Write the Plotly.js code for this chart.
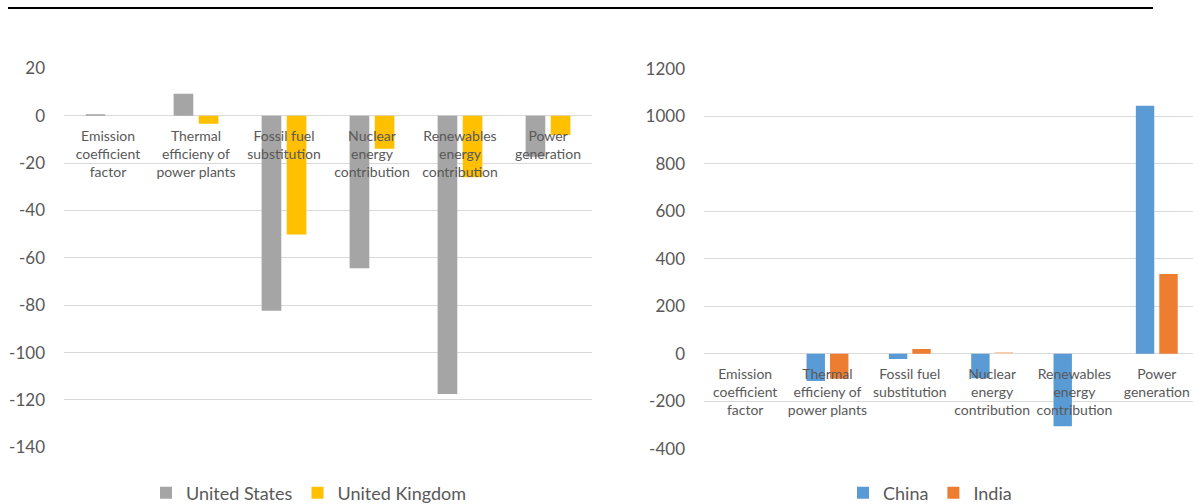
<!DOCTYPE html>
<html>
<head>
<meta charset="utf-8">
<script src="https://cdn.plot.ly/plotly-3.0.1.min.js"></script>
<style>
html,body{margin:0;padding:0;background:#fff;overflow:hidden;}
#chart{width:1193px;height:504px;}
</style>
</head>
<body>
<div id="chart"></div>
<script>
// ---- data ----
const categories = [
  "Emission<br>coefficient<br>factor",
  "Thermal<br>efficieny of<br>power plants",
  "Fossil fuel<br>substitution",
  "Nuclear<br>energy<br>contribution",
  "Renewables<br>energy<br>contribution",
  "Power<br>generation"
];
const unitedStates  = [0.6, 9.3, -82.4, -64.4, -117.5, -17.3];
const unitedKingdom = [0, -3.4, -50.2, -14.0, -26.0, -8.2];
const china = [0, -115, -22, -104, -306, 1045];
const india = [0, -106, 20, 7, 0, 336];
const leftTicks = [20, 0, -20, -40, -60, -80, -100, -120, -140];
const rightTicks = [1200, 1000, 800, 600, 400, 200, 0, -200, -400];

// ---- layout helpers ----
const W = 1193, H = 504;
const px = v => v / W;
const py = v => 1 - v / H;
const txt = '#595959';
const grid = '#d9d9d9';
const FONT = 'Lato, "Liberation Sans", sans-serif';

const leftRange = [-140, 20];
const rightRange = [-400, 1200];
const leftDom = [py(447.3), py(68.3)];
const rightDom = [py(448.6), py(69)];
function zeroPos(dom, r){ return dom[0] + (0 - r[0])/(r[1]-r[0])*(dom[1]-dom[0]); }

const indiaColors = india.map((v,i)=> i===3 ? '#F8CBAD' : '#ED7D31');

const traces = [
  {type:'bar', name:'United States', x:categories, y:unitedStates, xaxis:'x', yaxis:'y',
   marker:{color:'#A5A5A5'}, legend:'legend'},
  {type:'bar', name:'United Kingdom', x:categories, y:unitedKingdom, xaxis:'x', yaxis:'y',
   marker:{color:'#FFC000'}, legend:'legend'},
  {type:'bar', name:'China', x:categories, y:china, xaxis:'x2', yaxis:'y2',
   marker:{color:'#5B9BD5'}, legend:'legend2'},
  {type:'bar', name:'India', x:categories, y:india, xaxis:'x2', yaxis:'y2',
   marker:{color:indiaColors}, legend:'legend2'}
];

const xCommon = {
  type:'category', anchor:'free', showgrid:false, showline:false, zeroline:false,
  ticks:'', tickfont:{family:FONT, size:14, color:txt}, tickangle:0, fixedrange:true,
  ticklabelstandoff:10, automargin:false
};
const yCommon = {
  showgrid:true, gridcolor:grid, gridwidth:1, zeroline:true, zerolinecolor:grid, zerolinewidth:1,
  showline:false, ticks:'', tickfont:{family:FONT, size:17, color:txt}, ticklabelstandoff:18,
  fixedrange:true, automargin:false
};

const layout = {
  width:W, height:H,
  margin:{l:0,r:0,t:0,b:0, autoexpand:false},
  paper_bgcolor:'#fff', plot_bgcolor:'#fff',
  barmode:'group', bargap:0.43, bargroupgap:0.215,
  showlegend:true,
  xaxis: Object.assign({}, xCommon, {domain:[px(64), px(592)], range:[-0.5,5.5],
         position: zeroPos(leftDom, leftRange)}),
  yaxis: Object.assign({}, yCommon, {domain:leftDom, anchor:'x', range:leftRange,
         tickvals:leftTicks, ticktext:leftTicks.map(String)}),
  xaxis2: Object.assign({}, xCommon, {domain:[px(704), 1], range:[-0.5, 5.44],
         position: zeroPos(rightDom, rightRange)}),
  yaxis2: Object.assign({}, yCommon, {domain:rightDom, anchor:'x2', range:rightRange,
         tickvals:rightTicks, ticktext:rightTicks.map(String)}),
  legend:{orientation:'h', x:px(309), xanchor:'center', y:py(493), yanchor:'middle',
          font:{family:FONT, size:18, color:txt}, bgcolor:'rgba(0,0,0,0)', itemwidth:30},
  legend2:{orientation:'h', x:px(930), xanchor:'center', y:py(493), yanchor:'middle',
          font:{family:FONT, size:18, color:txt}, bgcolor:'rgba(0,0,0,0)', itemwidth:30},
  shapes:[{type:'line', xref:'paper', yref:'paper', x0:px(8), x1:px(1153), y0:py(8), y1:py(8),
           line:{color:'#000', width:2.2}}]
};

Plotly.newPlot('chart', traces, layout, {displayModeBar:false, staticPlot:true});
</script>
</body>
</html>
